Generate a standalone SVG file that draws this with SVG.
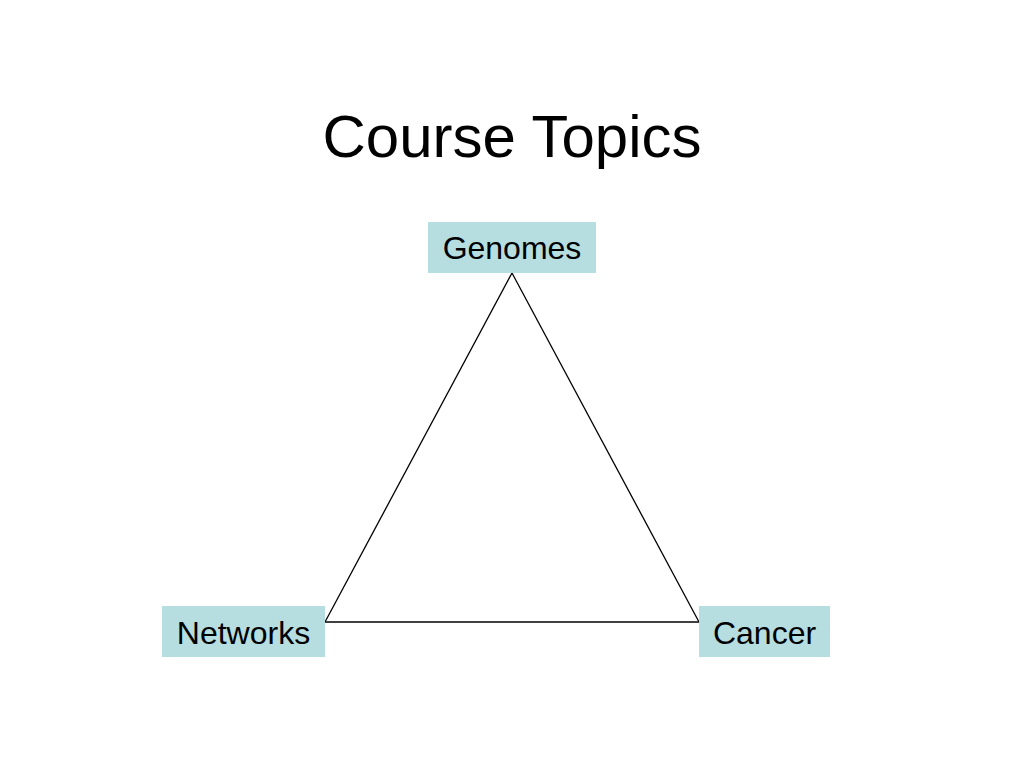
<svg xmlns="http://www.w3.org/2000/svg" width="1024" height="768" viewBox="0 0 1024 768">
<style>
.box{fill:#b6dde0}
.lbl{font-family:"Liberation Sans",Arial,sans-serif;font-size:32px;fill:#000;text-anchor:middle}
.ln{stroke:#000;stroke-width:1.3;fill:none}
</style>
<rect width="1024" height="768" fill="#fff"/>
<text x="512" y="157" style="font-family:'Liberation Sans',Arial,sans-serif;font-size:60px;text-anchor:middle">Course Topics</text>
<g id="connectors">
<line class="ln" x1="512" y1="273" x2="325" y2="622"/>
<line class="ln" x1="512" y1="273" x2="699" y2="622"/>
<line class="ln" x1="325" y1="622" x2="699" y2="622"/>
</g>
<g id="genomes"><rect class="box" x="428" y="222" width="168" height="51"/><text class="lbl" x="512" y="259">Genomes</text></g>
<g id="networks"><rect class="box" x="162" y="606" width="163" height="51"/><text class="lbl" x="243.5" y="644">Networks</text></g>
<g id="cancer"><rect class="box" x="699" y="606" width="131" height="51"/><text class="lbl" x="764.5" y="644">Cancer</text></g>
</svg>
